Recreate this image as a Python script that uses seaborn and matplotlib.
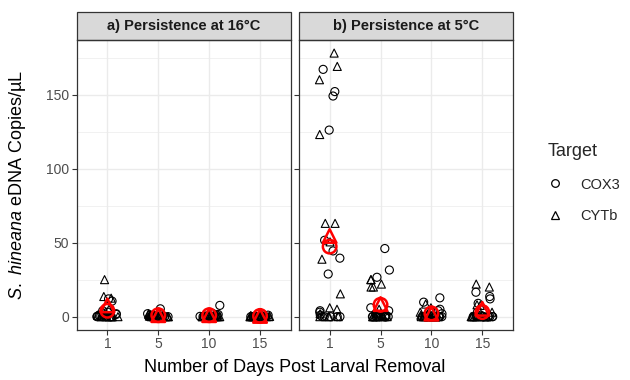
import numpy as np
import pandas as pd
import matplotlib
matplotlib.use("Agg")
import matplotlib.pyplot as plt
from matplotlib.lines import Line2D
from matplotlib.patches import Rectangle
import seaborn as sns

# ── data (copies/uL) ─────────────────────────────────────────────────────────
DAYS    = ["1", "5", "10", "15"]
TARGETS = ["COX3", "CYTb"]
PANELS  = ["a) Persistence at 16°C", "b) Persistence at 5°C"]

# panel a: 16 °C
A_COX3 = {
    "1":  [12, 10.5, 4, 3, 2, 1.5, 1, 0.5, 0.3, 0, 0, 0, 0, 0, 0],
    "5":  [5.3, 2, 1.5, 1, 0.5, 0.3, 0, 0, 0, 0, 0, 0, 0, 0, 0],
    "10": [7.6, 2, 1.5, 1, 0.5, 0.2, 0, 0, 0, 0, 0, 0, 0, 0, 0],
    "15": [1, 0.6, 0.4, 0.2, 0, 0, 0, 0, 0, 0, 0, 0, 0, 0, 0],
}
A_CYTB = {
    "1":  [25, 12.5, 13.6, 5, 3, 2, 1, 0, 0, 0, 0, 0, 0, 0, 0],
    "5":  [2, 1.5, 1, 1, 0.5, 0.3, 0, 0, 0, 0, 0, 0, 0, 0, 0],
    "10": [2, 1.5, 1, 0.5, 0.3, 0, 0, 0, 0, 0, 0, 0, 0, 0, 0],
    "15": [1.2, 0.8, 0.5, 0.2, 0, 0, 0, 0, 0, 0, 0, 0, 0, 0, 0],
}
# panel b: 5 °C
B_COX3 = {
    "1":  [167, 152, 149, 126, 51.6, 44.4, 39.5, 28.8, 4, 3, 1, 0, 0, 0, 0, 0],
    "5":  [46, 31.5, 26.6, 6, 4, 2, 1, 0, 0, 0, 0, 0, 0, 0, 0, 0],
    "10": [12.7, 9.8, 5, 4, 2, 1, 0, 0, 0, 0, 0, 0, 0, 0, 0, 0],
    "15": [16.5, 13.6, 12, 9, 3, 1, 0, 0, 0, 0, 0, 0, 0, 0, 0, 0],
}
B_CYTB = {
    "1":  [178, 169, 160, 123, 63, 63, 50.5, 38.8, 15.4, 6, 5, 2, 0, 0, 0, 0],
    "5":  [25, 25, 22, 20, 20, 5, 2, 1, 0, 0, 0, 0, 0, 0, 0, 0],
    "10": [8.5, 6, 3, 1, 0, 0, 0, 0, 0, 0, 0, 0, 0, 0, 0, 0],
    "15": [22, 20, 8, 7.6, 3, 1, 0, 0, 0, 0, 0, 0, 0, 0, 0, 0],
}

# group means (red markers)
A_MEAN_COX3 = [4.0, 1.0, 1.0, 0.5]
A_MEAN_CYTB = [7.6, 1.0, 1.0, 0.5]
B_MEAN_COX3 = [47.3, 8.0, 2.2, 3.1]
B_MEAN_CYTB = [54.5, 8.5, 2.0, 5.3]

# ── style ─────────────────────────────────────────────────────────────────────
sns.set_theme(style="white")
plt.rcParams.update({
    "font.family": ["Liberation Sans", "DejaVu Sans"],
    "mathtext.fontset": "custom",
    "mathtext.it": "Liberation Sans:italic",
    "mathtext.rm": "Liberation Sans",
})
GRID   = "#EBEBEB"
BORDER = "#333333"
TICKS  = "#4D4D4D"
MARKER = {"COX3": "o", "CYTb": "^"}


def long_frame(cox, cyt):
    rows = []
    for tgt, d in (("COX3", cox), ("CYTb", cyt)):
        for day in DAYS:
            for v in d[day]:
                rows.append((day, tgt, v))
    return pd.DataFrame(rows, columns=["day", "target", "copies"])


np.random.seed(3)
fig, axes = plt.subplots(1, 2, figsize=(6.3, 3.8), dpi=100, sharey=True)
fig.subplots_adjust(left=0.122, right=0.814, bottom=0.132, top=0.895, wspace=0.04)

panels = [
    (long_frame(A_COX3, A_CYTB), A_MEAN_COX3, A_MEAN_CYTB),
    (long_frame(B_COX3, B_CYTB), B_MEAN_COX3, B_MEAN_CYTB),
]

for ax, title, (df, m_cox, m_cyt) in zip(axes, PANELS, panels):
    for tgt in TARGETS:
        sub = df[df["target"] == tgt]
        n0 = len(ax.collections)
        sns.stripplot(data=sub, x="day", y="copies", order=DAYS, ax=ax,
                      jitter=0.22, marker=MARKER[tgt], size=5.8,
                      color="black", linewidth=0.8, zorder=3)
        for coll in ax.collections[n0:]:
            coll.set_facecolor("none")
            coll.set_edgecolor("black")
            coll.set_linewidth(0.8)

    # means
    mean_df = pd.DataFrame({"day": DAYS * 2,
                            "target": ["COX3"] * 4 + ["CYTb"] * 4,
                            "copies": m_cox + m_cyt})
    for tgt, mk in MARKER.items():
        sub = mean_df[mean_df["target"] == tgt]
        x = [DAYS.index(d) for d in sub["day"]]
        ax.scatter(x, sub["copies"], marker=mk, s=95, facecolors="none",
                   edgecolors="red", linewidths=1.8, zorder=5)

    ax.set_xlim(-0.6, 3.6)
    ax.set_ylim(-8.9, 186.9)
    ax.set_yticks([0, 50, 100, 150])
    ax.set_yticks([25, 75, 125, 175], minor=True)
    ax.grid(True, which="major", color=GRID, linewidth=1.0, zorder=0)
    ax.grid(True, which="minor", axis="y", color=GRID, linewidth=0.5, zorder=0)
    ax.set_axisbelow(True)
    for s in ax.spines.values():
        s.set_color(BORDER)
        s.set_linewidth(0.9)
    ax.tick_params(axis="both", which="major", length=3.5, width=0.8,
                   color=BORDER, labelcolor=TICKS, labelsize=10, pad=2,
                   bottom=True, left=True)
    ax.tick_params(axis="y", which="minor", length=0)
    ax.set_xlabel("")
    ax.set_ylabel("")

    # facet strip
    strip_h = 28 / 290
    ax.add_patch(Rectangle((0, 1), 1, strip_h, transform=ax.transAxes,
                           facecolor="#D9D9D9", edgecolor=BORDER,
                           linewidth=0.9, clip_on=False))
    ax.text(0.5, 1 + strip_h / 2, title, transform=ax.transAxes,
            ha="center", va="center", fontsize=10.5, fontweight="bold",
            color="#1A1A1A")

axes[1].tick_params(axis="y", left=True, labelleft=False)

fig.text(0.468, 0.033, "Number of Days Post Larval Removal",
         ha="center", va="center", fontsize=13, color="black")
fig.text(0.028, 0.513, r"$\it{S.\ hineana}$ eDNA Copies/µL",
         ha="center", va="center", rotation=90, fontsize=13, color="black")

handles = [Line2D([], [], marker=MARKER[t], linestyle="none", markersize=5.5,
                  markerfacecolor="none", markeredgecolor="black",
                  markeredgewidth=0.9) for t in TARGETS]
leg = fig.legend(handles, TARGETS, title="Target", loc="upper left",
                 bbox_to_anchor=(0.849, 0.658), frameon=False, fontsize=10.5,
                 title_fontsize=13, handletextpad=1.2, labelspacing=1.2,
                 handlelength=1.0)
leg._legend_box.align = "left"

fig.savefig("out.png", dpi=100)
